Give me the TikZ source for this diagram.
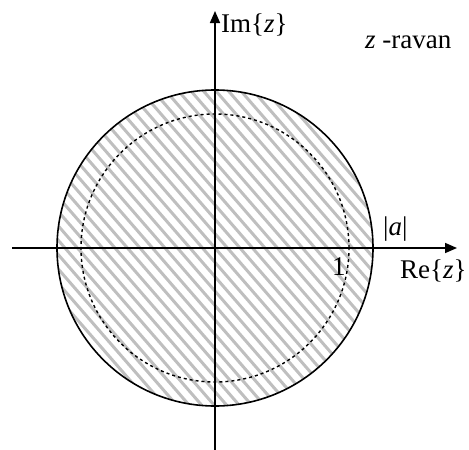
\documentclass[tikz,border=0pt]{standalone}
\usepackage{fontspec}
\setmainfont{Liberation Serif}
\usetikzlibrary{arrows.meta}
\begin{document}
\begin{tikzpicture}[x=1pt,y=-1pt,
  axis/.style={line width=1.6pt,-{Triangle[length=12pt,width=10pt]}},
  hatchline/.style={line width=3pt,gray!50},
  lbl/.style={anchor=base west,inner sep=0pt,font=\fontsize{27}{31}\selectfont}]
\useasboundingbox (0,0) rectangle (469,450);
\coordinate (O) at (215,248);
% hatching inside the outer circle
\begin{scope}
  \clip (O) circle[radius=158];
  \foreach \c in {-375,-362.5,...,375}
    \draw[hatchline] ([shift={(\c-180,-207)}]O) -- ([shift={(\c+180,207)}]O);
\end{scope}
\node[circle,draw,line width=1.6pt,minimum size=316pt,inner sep=0pt] (outer) at (O) {};
\node[circle,draw,line width=1.4pt,dash pattern=on 3pt off 3pt,minimum size=268pt,inner sep=0pt] (unit) at (O) {};
% axes
\coordinate (xl) at (12,248);
\coordinate (xr) at (457,248);
\coordinate (yb) at (215,450);
\coordinate (yt) at (215,11);
\draw[axis] (xl) -- (xr);
\draw[axis] (yb) -- (yt);
% labels
\node[lbl] (im) at (221,32) {Im\{\textit{z}\}};
\node[lbl] (plane) at (365,48) {\textit{z} -ravan};
\node[lbl] (a) at (383,235) {|\textit{a}|};
\node[lbl] (one) at (332,275) {1};
\node[lbl] (re) at (400,278) {Re\{\textit{z}\}};
\end{tikzpicture}
\end{document}
